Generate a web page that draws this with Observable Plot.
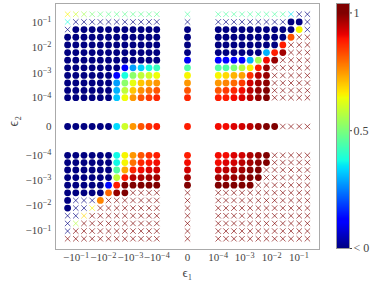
<!DOCTYPE html>
<html><head><meta charset="utf-8">
<script src="https://cdn.jsdelivr.net/npm/d3@7"></script>
<script src="https://cdn.jsdelivr.net/npm/@observablehq/plot@0.6"></script>
<style>
body{margin:0;background:#fff;}
#wrap{display:flex;flex-direction:row;width:374px;height:282px;}
</style></head><body><div id="wrap"></div>
<script>
// grid magnitudes (both axes)
const mags = [0.0001, 0.0002, 0.0004, 0.0008, 0.0016, 0.0032, 0.0064, 0.0128, 0.0256, 0.0512, 0.1024, 0.2048];
const eps1 = [...mags.slice().reverse().map(v => -v), 0, ...mags];   // columns, left to right
const eps2 = [...mags.slice().reverse(), 0, ...mags.map(v => -v)];   // rows, top to bottom

const tickVals = [-0.1, -0.01, -0.001, -0.0001, 0, 0.0001, 0.001, 0.01, 0.1];
const tickLabels = ["−10^−1", "−10^−2", "−10^−3", "−10^−4", "0", "10^−4", "10^−3", "10^−2", "10^−1"];
const cbTicks = [0, 0.5, 1];
const cbLabels = ["< 0", "0.5", "1"];

// values per row (top to bottom), columns left to right; values < 0 stored as 0
const values = [
 [0.65,0.6,0.55,0.5,0.48,0.47,0.47,0.47,0.47,0.47,0.47,0.47, 0.45, 0.45,0.45,0.45,0.45,0.45,0.45,0.45,0.45,0.45,0.35,0,0],
 [0.38,0,0,0,0,0,0,0,0,0,0,0, 0, 0,0,0,0,0,0,0,0,0,0,0,0],
 [0,0,0,0,0,0,0,0,0,0,0,0, 0, 0,0,0,0,0,0,0,0,0,0,0.65,0],
 [0,0,0,0,0,0,0,0,0,0,0,0, 0, 0,0,0,0,0,0,0,0,0,0.82,1,1],
 [0,0,0,0,0,0,0,0,0,0,0,0, 0, 0,0,0,0,0,0,0,0,0.88,1,1,1],
 [0,0,0,0,0,0,0,0,0,0,0,0, 0, 0,0,0,0,0,0,0.3,0.88,0.97,1,1,1],
 [0,0,0,0,0,0,0,0,0,0,0,0, 0.1, 0.12,0.12,0.12,0.12,0.3,0.55,0.9,0.98,1,1,1,1],
 [0,0,0,0,0,0,0,0.12,0.28,0.33,0.38,0.42, 0.45, 0.45,0.45,0.5,0.57,0.65,0.88,0.98,1,1,1,1,1],
 [0,0,0,0,0,0,0.12,0.38,0.52,0.58,0.6,0.64, 0.65, 0.65,0.68,0.72,0.74,0.86,0.95,0.98,1,1,1,1,1],
 [0,0,0,0,0,0,0.28,0.52,0.63,0.7,0.73,0.75, 0.75, 0.75,0.77,0.8,0.85,0.93,0.97,0.99,1,1,1,1,1],
 [0,0,0,0,0,0,0.3,0.58,0.7,0.76,0.79,0.82, 0.82, 0.82,0.85,0.87,0.9,0.95,0.98,1,1,1,1,1,1],
 [0,0,0,0,0,0,0.32,0.64,0.75,0.82,0.85,0.87, 0.87, 0.88,0.88,0.9,0.92,0.95,0.98,1,1,1,1,1,1],
 [0,0,0,0,0,0,0.34,0.6,0.75,0.82,0.86,0.88, 0.88, 0.9,0.9,0.92,0.93,0.95,0.98,1,1,1,1,1,1],
 [0,0,0,0,0,0,0.37,0.65,0.75,0.82,0.86,0.88, 0.88, 0.9,0.9,0.92,0.93,0.96,0.98,1,1,1,1,1,1],
 [0,0,0,0,0,0,0.37,0.65,0.79,0.87,0.89,0.9, 0.9, 0.9,0.92,0.93,0.95,0.97,0.99,1,1,1,1,1,1],
 [0,0,0,0,0,0,0.45,0.73,0.87,0.9,0.92,0.93, 0.93, 0.93,0.95,0.96,0.97,0.99,1,1,1,1,1,1,1],
 [0,0,0,0,0,0,0.58,0.88,0.95,0.96,0.97,0.97, 0.97, 0.97,0.97,0.98,0.99,1,1,1,1,1,1,1,1],
 [0,0,0,0,0,0.13,0.88,1,1,1,1,1, 1, 1,1,1,1,1,1,1,1,1,1,1,1],
 [0,0,0,0,0,0.8,0.98,1,1,1,1,1, 1, 1,1,1,1,1,1,1,1,1,1,1,1],
 [0,0,0,0,0.77,1,1,1,1,1,1,1, 1, 1,1,1,1,1,1,1,1,1,1,1,1],
 [0,0,0,0.65,1,1,1,1,1,1,1,1, 1, 1,1,1,1,1,1,1,1,1,1,1,1],
 [0,0,0.68,1,1,1,1,1,1,1,1,1, 1, 1,1,1,1,1,1,1,1,1,1,1,1],
 [0,0.57,1,1,1,1,1,1,1,1,1,1, 1, 1,1,1,1,1,1,1,1,1,1,1,1],
 [0,1,1,1,1,1,1,1,1,1,1,1, 1, 1,1,1,1,1,1,1,1,1,1,1,1],
 [1,1,1,1,1,1,1,1,1,1,1,1, 1, 1,1,1,1,1,1,1,1,1,1,1,1]
];
// o = stable (circle), x = cross
const markers = [
 "xxxxxxxxxxxx|x|xxxxxxxxxxxx",
 "xxxxxxxxxxxx|x|xxxxxxxxxoox",
 "xooooooooooo|o|ooooooooooox",
 "oooooooooooo|o|ooooooooooxx",
 "oooooooooooo|o|oooooooooxxx",
 "oooooooooooo|o|oooooooooxxx",
 "oooooooooooo|o|ooooooooxxxx",
 "oooooooooooo|o|oooooooxxxxx",
 "oooooooooooo|o|oooooooxxxxx",
 "oooooooooooo|o|oooooooxxxxx",
 "oooooooooooo|o|oooooooxxxxx",
 "oooooooooooo|o|oooooooxxxxx",
 "oooooooooooo|o|ooooooooxxxx",
 "oooooooooooo|o|oooooooxxxxx",
 "oooooooooooo|o|oooooooxxxxx",
 "oooooooooooo|o|ooooooxxxxxx",
 "oooooooooooo|o|ooooooxxxxxx",
 "oooooooooooo|o|oooooxxxxxxx",
 "ooooooooxxxx|x|xxxxxxxxxxxx",
 "oxxxoxxxxxxx|x|xxxxxxxxxxxx",
 "oxxxxxxxxxxx|x|xxxxxxxxxxxx",
 "xxxxxxxxxxxx|x|xxxxxxxxxxxx",
 "xxxxxxxxxxxx|x|xxxxxxxxxxxx",
 "xxxxxxxxxxxx|x|xxxxxxxxxxxx",
 "xxxxxxxxxxxx|x|xxxxxxxxxxxx"
];

const cells = [];
values.forEach((row, i) => {
  const m = markers[i].replace(/\|/g, "");
  row.forEach((v, j) => cells.push({x: eps1[j], y: eps2[i], v, m: m[j]}));
});

// jet colormap (matplotlib), exact as piecewise-linear RGB
function jetRGB(t) {
  const seg = pts => { for (let i = 1; i < pts.length; i++) if (t <= pts[i][0]) { const [x0,y0] = pts[i-1], [x1,y1] = pts[i]; return y0 + (y1-y0)*(t-x0)/(x1-x0); } return pts[pts.length-1][1]; };
  const r = seg([[0,0],[0.35,0],[0.66,1],[0.89,1],[1,0.5]]);
  const g = seg([[0,0],[0.125,0],[0.375,1],[0.64,1],[0.91,0],[1,0]]);
  const b = seg([[0,0.5],[0.11,1],[0.34,1],[0.65,0],[1,0]]);
  return `rgb(${Math.round(r*255)},${Math.round(g*255)},${Math.round(b*255)})`;
}
const stops = [0,0.11,0.125,0.34,0.35,0.375,0.64,0.65,0.66,0.89,0.91,1];
const colorScale = {type: "linear", domain: stops, range: stops.map(jetRGB), interpolate: "rgb", clamp: true};

const font = "'Liberation Serif', 'DejaVu Serif', serif";
const fmt = v => tickLabels[tickVals.indexOf(v)];

const main = Plot.plot({
  width: 330, height: 282,
  marginLeft: 55, marginRight: 11, marginTop: 3, marginBottom: 33,
  style: {fontFamily: font, fontSize: "11px", color: "#444", background: "white"},
  x: {type: "symlog", constant: 8e-6, domain: [-0.571, 0.571]},
  y: {type: "symlog", constant: 8e-6, domain: [-0.541, 0.541]},
  color: colorScale,
  marks: [
    Plot.frame({stroke: "#aaa"}),
    Plot.axisX({ticks: tickVals, tickFormat: fmt, tickSize: 0, tickPadding: 4, label: null}),
    Plot.axisY({ticks: tickVals, tickFormat: fmt, tickSize: 0, tickPadding: 4, label: null}),
    Plot.dot(cells.filter(d => d.m === "o"), {x: "x", y: "y", fill: "v", r: 3.4, stroke: null}),
    Plot.dot(cells.filter(d => d.m === "x"), {x: "x", y: "y", stroke: "v", symbol: "times", r: 2.6, strokeOpacity: 0.65, strokeWidth: 1}),
    Plot.text(["ϵ₁"], {frameAnchor: "bottom", dy: 27, fontSize: 13, fill: "#444"}),
    Plot.text(["ϵ₂"], {frameAnchor: "left", dx: -42, rotate: -90, fontSize: 14, fill: "#444"})
  ]
});

const cb = Plot.plot({
  width: 44, height: 282,
  marginLeft: 6, marginRight: 25, marginTop: 3, marginBottom: 34,
  style: {fontFamily: font, fontSize: "12px", color: "#444", background: "white"},
  x: {domain: [0, 1], axis: null},
  y: {domain: [0, 1.04], axis: null},
  color: colorScale,
  marks: [
    Plot.raster({fill: (x, y) => y, x1: 0, x2: 1, y1: 0, y2: 1.04, width: 2, height: 400, imageRendering: "auto"}),
    Plot.frame({stroke: "#999"}),
    Plot.axisY({anchor: "right", ticks: cbTicks, tickFormat: v => cbLabels[cbTicks.indexOf(v)], tickSize: 2, tickPadding: 2, label: null})
  ]
});

// render superscripts in tick labels
d3.select(main).selectAll("text").each(function() {
  const t = this.textContent;
  if (t.includes("^")) {
    const [base, sup] = t.split("^");
    const sel = d3.select(this);
    sel.text(base);
    sel.append("tspan").attr("dy", "-0.45em").attr("font-size", "0.75em").text(sup);
  }
});

document.getElementById("wrap").append(main, cb);
</script></body></html>
